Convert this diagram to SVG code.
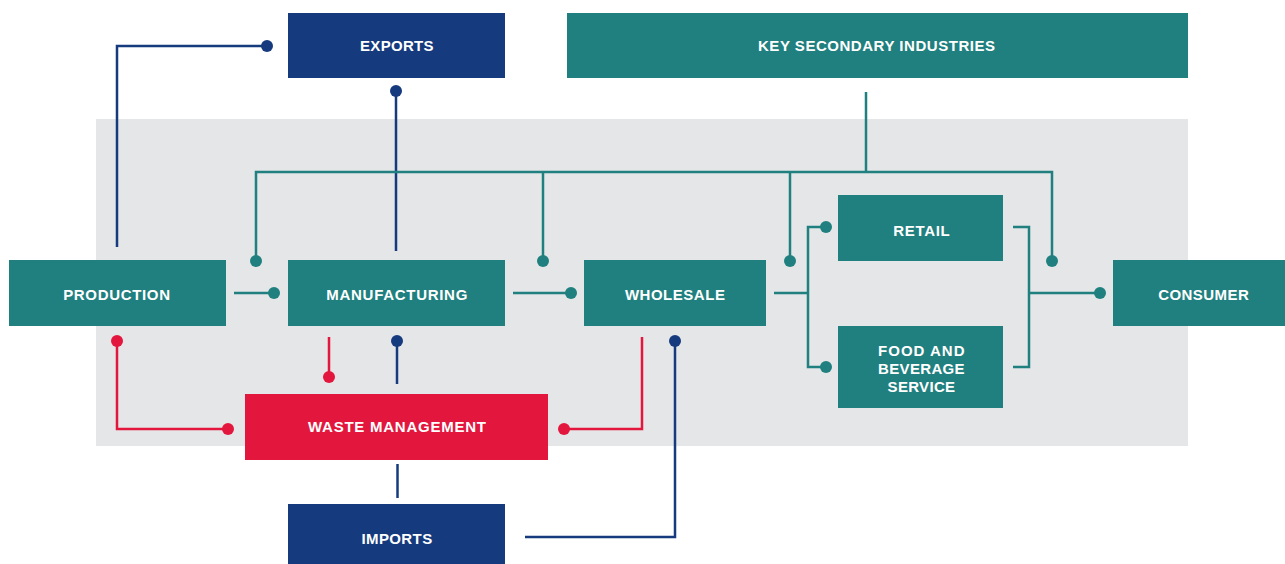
<svg xmlns="http://www.w3.org/2000/svg" width="1285" height="564" viewBox="0 0 1285 564">
  <style>
    .lbl { font-family: "Liberation Sans", Arial, sans-serif; font-weight: 700; font-size: 15px; fill: #ffffff; text-anchor: middle; }
    .teal { fill: #1f807f; }
    .navy { fill: #163a7e; }
    .red { fill: #e3173e; }
    .ln { fill: none; stroke-width: 2.5; }
    .ln-teal { stroke: #1f807f; }
    .ln-navy { stroke: #163a7e; }
    .ln-red { stroke: #e3173e; }
  </style>
  <defs>
    <marker id="dot-teal" markerUnits="userSpaceOnUse" markerWidth="14" markerHeight="14" refX="7" refY="7" viewBox="0 0 14 14">
      <circle cx="7" cy="7" r="6" fill="#1f807f"/>
    </marker>
    <marker id="dot-navy" markerUnits="userSpaceOnUse" markerWidth="14" markerHeight="14" refX="7" refY="7" viewBox="0 0 14 14">
      <circle cx="7" cy="7" r="6" fill="#163a7e"/>
    </marker>
    <marker id="dot-red" markerUnits="userSpaceOnUse" markerWidth="14" markerHeight="14" refX="7" refY="7" viewBox="0 0 14 14">
      <circle cx="7" cy="7" r="6" fill="#e3173e"/>
    </marker>
  </defs>

  <!-- value-chain backdrop -->
  <rect x="96" y="119" width="1092" height="327" fill="#e5e6e8"/>

  <g id="connectors">
    <!-- navy: trade flows -->
    <path class="ln ln-navy" d="M117,247 V46 H267" marker-end="url(#dot-navy)"/>
    <path class="ln ln-navy" d="M396,251 V91" marker-end="url(#dot-navy)"/>
    <path class="ln ln-navy" d="M397,384 V341" marker-end="url(#dot-navy)"/>
    <path class="ln ln-navy" d="M397.5,464 V498"/>
    <path class="ln ln-navy" d="M525,537 H675 V341" marker-end="url(#dot-navy)"/>
    <!-- red: waste flows -->
    <path class="ln ln-red" d="M117,341 V429 H228" marker-start="url(#dot-red)" marker-end="url(#dot-red)"/>
    <path class="ln ln-red" d="M329,337 V377" marker-end="url(#dot-red)"/>
    <path class="ln ln-red" d="M642,337 V429 H564" marker-end="url(#dot-red)"/>
    <!-- teal: secondary industries bus -->
    <path class="ln ln-teal" d="M866,92 V172"/>
    <path class="ln ln-teal" d="M256,261 V172 H1052 V261" marker-start="url(#dot-teal)" marker-end="url(#dot-teal)"/>
    <path class="ln ln-teal" d="M543,172 V261" marker-end="url(#dot-teal)"/>
    <path class="ln ln-teal" d="M790,172 V261" marker-end="url(#dot-teal)"/>
    <!-- teal: main chain -->
    <path class="ln ln-teal" d="M234,293 H274" marker-end="url(#dot-teal)"/>
    <path class="ln ln-teal" d="M513,293 H571" marker-end="url(#dot-teal)"/>
    <path class="ln ln-teal" d="M774,293 H808"/>
    <path class="ln ln-teal" d="M826,227 H808 V367 H826" marker-start="url(#dot-teal)" marker-end="url(#dot-teal)"/>
    <path class="ln ln-teal" d="M1013,227 H1029 V367 H1013"/>
    <path class="ln ln-teal" d="M1029,293 H1100" marker-end="url(#dot-teal)"/>
  </g>

  <g id="exports">
    <rect class="navy" x="288" y="13" width="217" height="65"/>
    <text class="lbl" x="396.8" y="51" textLength="73.6">EXPORTS</text>
  </g>
  <g id="key-secondary-industries">
    <rect class="teal" x="567" y="13" width="621" height="65"/>
    <text class="lbl" x="876.5" y="51.2" textLength="237">KEY SECONDARY INDUSTRIES</text>
  </g>
  <g id="production">
    <rect class="teal" x="9" y="260" width="217" height="66"/>
    <text class="lbl" x="116.6" y="300.3" textLength="106.8">PRODUCTION</text>
  </g>
  <g id="manufacturing">
    <rect class="teal" x="288" y="260" width="217" height="66"/>
    <text class="lbl" x="396.8" y="300.3" textLength="141">MANUFACTURING</text>
  </g>
  <g id="wholesale">
    <rect class="teal" x="584" y="260" width="182" height="66"/>
    <text class="lbl" x="674.9" y="300.3" textLength="100">WHOLESALE</text>
  </g>
  <g id="retail">
    <rect class="teal" x="838" y="195" width="165" height="66"/>
    <text class="lbl" x="921.5" y="236.3" textLength="56.4">RETAIL</text>
  </g>
  <g id="food-and-beverage-service">
    <rect class="teal" x="838" y="326" width="165" height="82"/>
    <text class="lbl" x="921.3" y="356.3" textLength="86.5">FOOD AND</text>
    <text class="lbl" x="921.3" y="374.2" textLength="86.5">BEVERAGE</text>
    <text class="lbl" x="921.3" y="392.1" textLength="67.5">SERVICE</text>
  </g>
  <g id="consumer">
    <rect class="teal" x="1113" y="260" width="172" height="66"/>
    <text class="lbl" x="1203.5" y="300.3" textLength="90.6">CONSUMER</text>
  </g>
  <g id="waste-management">
    <rect class="red" x="245" y="394" width="303" height="66"/>
    <text class="lbl" x="397" y="431.9" textLength="178">WASTE MANAGEMENT</text>
  </g>
  <g id="imports">
    <rect class="navy" x="288" y="504" width="217" height="60"/>
    <text class="lbl" x="396.8" y="543.9" textLength="70.7">IMPORTS</text>
  </g>
</svg>
